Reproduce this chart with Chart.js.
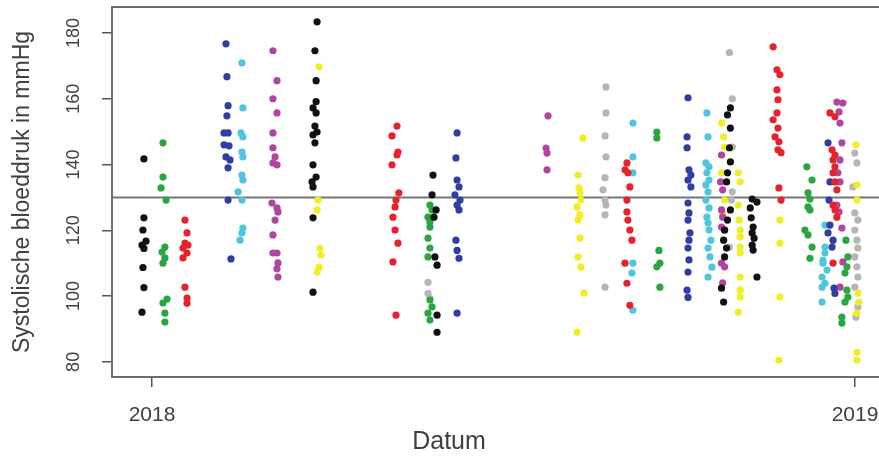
<!DOCTYPE html>
<html>
<head>
<meta charset="utf-8">
<script src="https://cdn.jsdelivr.net/npm/chart.js@4/dist/chart.umd.min.js"></script>
<style>
  html, body { margin: 0; padding: 0; background: #fff; overflow: hidden; }
  #bp { display: block; }
</style>
</head>
<body>
<canvas id="bp" width="900" height="459"></canvas>
<script>
// metingen: [dag sinds 1-1-2018, systolisch mmHg], per kleur
const zwart = [
  [-4.2,141.7],[-4.2,123.8],[-4.7,120.1],[-3.1,116.7],[-5.2,115.5],[-4.2,114.5],[-4.7,108.7],[-4.2,102.6],[-5.2,95.1],
  [85.7,183.4],[84.6,174.6],[85.2,165.5],[85.2,159.1],[83.6,157.2],[85.2,155.7],[84.6,151.7],[85.7,149.9],[83.6,149.0],
  [84.6,146.6],[83.6,139.9],[85.2,136.2],[83.1,134.7],[83.6,133.2],[83.6,123.8],[83.6,101.2],
  [145.9,136.8],[145.4,130.8],[147.5,126.2],[146.4,124.0],[146.9,111.9],[148.0,109.4],[148.0,94.2],[148.0,89.0],
  [300.3,157.2],[298.8,155.1],[300.3,151.1],[299.8,145.1],[300.3,140.8],[298.8,137.5],[298.3,134.7],[300.3,126.2],
  [298.8,123.1],[297.3,120.1],[296.8,117.0],[298.3,114.6],[297.3,111.9],[295.7,102.4],[296.8,98.2],
  [311.6,129.5],[314.1,128.6],[310.6,126.8],[311.1,123.8],[312.1,121.0],[311.6,119.2],[312.6,117.6],[311.6,115.5],
  [312.1,114.0],[314.1,105.8],
];
const groen = [
  [5.7,146.6],[5.7,136.2],[4.7,132.9],[7.3,129.2],[6.7,114.9],[5.2,113.4],[6.7,111.6],[5.7,110.0],[7.8,99.1],[5.7,97.9],
  [6.7,94.8],[6.7,92.1],
  [144.3,127.7],[145.4,126.2],[143.3,124.0],[144.3,122.5],[144.3,121.0],[143.3,117.6],[144.3,114.6],[143.3,111.9],
  [144.3,98.8],[145.4,96.7],[143.3,94.8],[144.3,92.7],
  [262.1,149.9],[262.1,148.1],[263.2,113.9],[263.7,110.0],[262.1,108.9],[263.7,102.7],
  [340.0,139.3],[342.7,135.3],[340.6,131.4],[341.6,129.5],[340.6,127.1],[341.6,126.2],[339.0,120.1],[340.6,118.6],
  [342.7,114.9],[341.6,111.5],
  [360.3,117.0],[361.3,111.9],[360.8,108.9],[359.8,107.0],[360.8,101.8],[361.3,99.7],[359.8,98.2],[358.2,93.6],[358.2,91.8],
];
const rood = [
  [17.1,123.1],[18.2,119.2],[17.1,116.1],[18.7,115.5],[16.1,114.6],[18.2,113.1],[16.1,111.6],[17.1,102.7],[18.2,99.4],[18.2,97.8],
  [127.2,151.7],[124.6,148.7],[127.7,143.8],[127.2,142.9],[124.6,139.9],[128.2,131.4],[126.7,129.2],[126.2,127.1],
  [125.1,124.0],[126.2,120.1],[127.7,116.1],[125.1,110.4],[126.7,94.2],
  [246.6,140.5],[245.6,138.4],[247.1,137.5],[248.1,133.2],[246.6,129.2],[246.6,125.6],[247.1,123.1],[248.1,120.1],
  [249.2,117.0],[245.6,110.0],[246.6,103.9],[248.1,97.2],
  [322.5,175.8],[324.5,168.8],[326.0,167.3],[324.5,162.7],[325.0,159.7],[324.5,155.7],[322.5,153.6],[325.0,151.1],
  [323.5,148.4],[325.5,146.9],[325.0,144.5],[326.6,143.6],[325.5,132.9],[326.6,129.2],
  [352.0,155.7],[354.6,154.5],[353.1,144.5],[354.6,142.9],[353.6,141.4],[354.6,139.3],[353.6,137.5],[354.6,134.7],
  [355.6,132.3],[353.6,127.7],[354.6,126.2],[355.6,124.0],[353.6,110.0],
];
const blauw = [
  [38.4,176.7],[38.9,166.7],[39.5,157.9],[38.9,154.8],[37.4,149.6],[39.5,149.6],[37.4,146.0],[40.0,145.7],[38.4,142.3],
  [40.5,141.4],[39.5,139.0],[39.5,129.2],[41.0,111.3],
  [158.4,149.6],[157.8,142.0],[158.4,135.3],[159.4,133.2],[157.3,130.8],[159.9,129.2],[158.4,127.7],[159.4,126.2],
  [157.8,117.0],[158.4,113.9],[159.4,111.5],[158.4,94.8],
  [278.3,160.3],[277.8,148.4],[277.8,145.1],[278.8,138.4],[279.8,136.8],[278.3,135.3],[279.8,133.2],[278.3,128.3],
  [278.8,125.3],[278.3,123.1],[279.3,119.2],[278.8,117.0],[278.3,114.6],[278.8,111.0],[278.3,107.3],[277.8,101.8],[278.3,99.6],
  [351.0,146.6],[352.0,134.7],[351.5,129.2],[352.0,121.6],[351.0,119.2],[353.6,117.0],[353.1,114.9],[354.1,102.4],[354.6,100.8],
];
const cyaan = [
  [46.7,170.9],[47.2,157.2],[46.2,149.6],[47.2,148.4],[46.7,143.8],[47.2,142.3],[46.7,136.8],[47.2,135.3],[44.7,131.7],
  [46.7,129.2],[47.2,120.7],[46.7,119.2],[45.7,117.0],
  [249.7,152.6],[249.7,142.3],[249.7,137.5],[249.7,110.0],[249.2,107.0],[249.7,95.7],
  [288.1,155.7],[288.7,148.4],[287.6,140.5],[289.2,139.3],[288.1,137.5],[289.2,135.3],[287.6,133.8],[288.7,131.7],
  [287.6,129.2],[289.2,126.8],[288.1,124.0],[288.7,122.2],[289.2,120.1],[290.2,117.0],[288.7,114.6],[289.7,111.9],
  [290.7,108.8],[288.7,105.8],
  [349.4,121.6],[349.4,114.9],[349.4,113.1],[348.4,110.9],[348.4,110.0],[350.5,107.9],[347.9,105.8],[349.4,103.9],
  [347.9,102.7],[347.9,98.2],
];
const magenta = [
  [62.8,174.6],[64.9,165.5],[62.8,160.0],[64.9,155.7],[62.8,149.6],[62.8,145.1],[63.9,142.3],[62.8,140.5],[64.9,139.9],
  [62.3,128.3],[64.9,126.8],[65.4,125.6],[63.9,123.1],[62.8,118.6],[62.8,113.1],[64.9,113.1],[65.4,110.1],[64.9,108.3],[65.4,105.8],
  [205.6,154.8],[204.6,145.0],[205.1,143.5],[205.1,138.4],
  [295.7,142.9],[295.2,134.7],[296.3,132.3],[295.7,126.2],[296.3,124.0],[295.7,121.0],[297.3,120.1],[295.7,110.0],
  [297.3,108.9],[296.3,104.0],
  [355.6,159.0],[358.7,158.7],[356.7,156.0],[357.2,152.6],[358.2,146.6],[357.2,141.4],[356.1,137.5],[357.2,134.7],
  [355.6,127.7],[356.7,125.6],[358.2,120.7],[358.7,110.4],[357.2,102.7],
];
const geel = [
  [86.7,169.7],[86.2,129.2],[85.7,126.2],[87.2,114.6],[87.7,112.5],[86.7,108.8],[85.7,107.3],
  [223.8,148.1],[221.2,136.8],[221.7,132.9],[222.2,131.4],[222.7,129.2],[220.7,127.1],[222.2,124.7],[221.2,123.1],
  [222.2,117.6],[221.2,111.9],[222.7,108.8],[224.3,100.9],[220.7,89.0],
  [295.7,152.6],[296.8,148.4],[297.3,145.3],[295.7,137.5],[297.3,129.2],[296.3,125.3],
  [304.4,137.5],[305.4,134.7],[304.4,127.7],[304.9,123.1],[305.4,120.1],[305.4,118.0],[305.4,114.9],[305.4,113.1],
  [305.4,105.8],[305.4,101.8],[305.4,99.7],[304.4,95.1],
  [326.0,123.1],[326.0,116.1],[326.0,99.7],[325.5,80.5],
  [365.5,146.0],[366.0,133.8],[366.0,129.2],[366.5,100.9],[367.0,98.2],[366.0,94.8],[366.0,82.9],[366.0,80.5],
];
const grijs = [
  [143.3,104.2],[143.3,100.8],[144.3,99.3],
  [235.7,163.6],[235.7,155.7],[235.2,148.7],[235.7,142.3],[235.2,136.0],[234.2,132.3],[235.2,129.2],[235.7,127.7],
  [235.2,124.7],[235.2,102.7],
  [299.8,174.0],[301.3,160.0],[301.3,145.3],[301.3,131.7],[300.8,129.2],[299.8,114.9],
  [364.9,143.5],[366.0,140.5],[363.9,133.2],[364.9,125.3],[366.5,123.1],[364.9,120.1],[366.0,117.0],[366.5,114.6],
  [364.9,111.9],[366.0,108.9],[366.5,105.8],[364.9,102.7],[366.5,96.7],[365.5,93.6],
];

const yTicks = [80, 100, 120, 140, 160, 180];
const xTickDays = [0, 365];
const xTickLabels = ["2018", "2019"];
const grens = 130;   // horizontale referentielijn

const KLEUR = {
  zwart: "#111111", groen: "#2aa640", rood: "#e5232d", blauw: "#2f3ea0",
  cyaan: "#50c6de", magenta: "#b2449f", geel: "#f2ed24", grijs: "#b6b6b6",
  as: "#6e6e6e", tekst: "#404040",
};

const reeksen = [
  ["zwart", zwart], ["groen", groen], ["rood", rood], ["blauw", blauw],
  ["cyaan", cyaan], ["magenta", magenta], ["geel", geel], ["grijs", grijs],
];

// kader, lijn bij 130 en de x-titel (staat in het origineel links van het midden)
const kader = {
  id: "kader",
  beforeDatasetsDraw(chart) {
    const { ctx, chartArea: a, scales } = chart;
    const y = scales.y.getPixelForValue(grens);
    ctx.save();
    ctx.strokeStyle = "#777";
    ctx.lineWidth = 2;
    ctx.beginPath();
    ctx.moveTo(a.left, y);
    ctx.lineTo(a.right, y);
    ctx.stroke();
    ctx.restore();
  },
  afterDraw(chart) {
    const { ctx, chartArea: a } = chart;
    ctx.save();
    ctx.strokeStyle = KLEUR.as;
    ctx.lineWidth = 2;
    ctx.strokeRect(a.left, a.top, a.right - a.left, a.bottom - a.top);
    ctx.fillStyle = KLEUR.tekst;
    ctx.font = "25px 'Liberation Sans'";
    ctx.textAlign = "center";
    ctx.textBaseline = "middle";
    ctx.fillText("Datum", 449, 442);
    ctx.restore();
  },
};

function vasteTicks(waarden) {
  return (scale) => { scale.ticks = waarden.map((v) => ({ value: v })); };
}

new Chart(document.getElementById("bp"), {
  type: "scatter",
  data: {
    datasets: reeksen.map(([naam, rij]) => ({
      label: naam,
      data: rij.map(([d, v]) => ({ x: d, y: v })),
      backgroundColor: KLEUR[naam],
      borderWidth: 0,
      pointRadius: 3.6,
    })),
  },
  options: {
    responsive: false,
    animation: false,
    layout: { padding: { left: 0, top: 7, right: 6, bottom: 0 } },
    plugins: { legend: { display: false }, tooltip: { enabled: false } },
    scales: {
      x: {
        type: "linear",
        min: -20.77,
        max: 385.25,
        afterBuildTicks: vasteTicks(xTickDays),
        afterFit(s) { s.height = 82; s.paddingLeft = 0; s.paddingRight = 0; },
        grid: { drawOnChartArea: false, drawTicks: true, tickLength: 10, tickColor: "#555", lineWidth: 1.5 },
        border: { display: true, color: KLEUR.as, width: 2 },
        ticks: {
          font: { family: "Liberation Sans", size: 21 },
          color: KLEUR.tekst,
          padding: 16,
          maxRotation: 0,
          autoSkip: false,
          callback: (v) => xTickLabels[xTickDays.indexOf(v)],
        },
      },
      y: {
        min: 75.4,
        max: 187.9,
        afterBuildTicks: vasteTicks(yTicks),
        afterFit(s) { s.width = 112; s.paddingTop = 0; s.paddingBottom = 0; },
        grid: { drawOnChartArea: false, drawTicks: true, tickLength: 10, tickColor: "#555", lineWidth: 1.5 },
        border: { display: true, color: KLEUR.as, width: 2 },
        ticks: {
          font: { family: "Liberation Sans", size: 18 },
          color: KLEUR.tekst,
          minRotation: 90,
          maxRotation: 90,
          crossAlign: "center",
          padding: 13,
        },
        title: {
          display: true, text: "Systolische bloeddruk in mmHg", color: KLEUR.tekst,
          font: { family: "Liberation Sans", size: 23 },
          padding: { top: 9, bottom: 0 },
        },
      },
    },
  },
  plugins: [kader],
});
</script>
</body>
</html>
